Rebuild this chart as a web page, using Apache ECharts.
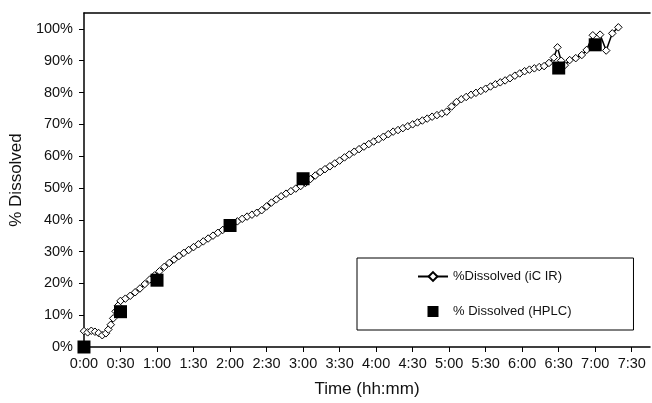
<!DOCTYPE html>
<html>
<head>
<meta charset="utf-8">
<script src="https://cdn.jsdelivr.net/npm/echarts@6/dist/echarts.min.js"></script>
<style>
html,body{margin:0;padding:0;background:#fff;}
#chart{width:652px;height:403px;}
</style>
</head>
<body>
<div id="chart"></div>
<script>
// Time in minutes, % dissolved values
const icirTimes = [0,3,6,9,12,15,18,20,22,24,26,28,30,34,38,42,46,50,54,58,62,66,70,74,78,82,86,90,94,98,102,106,110,114,118,122,126,130,134,138,142,146,150,154,158,162,166,170,174,178,182,186,190,194,198,202,206,210,214,218,222,226,230,234,238,242,246,250,254,258,262,266,270,274,278,282,286,290,294,298,302,306,310,314,318,322,326,330,334,338,342,346,350,354,358,362,366,370,374,378,382,386,389,392,395,399,404,409,413,418,424,429,434,439];
const icirValues = [5.0,4.6,5.1,4.8,4.4,3.7,4.3,5.5,7.0,9.0,11.2,13.0,14.5,15.2,16.1,17.2,18.4,19.8,21.2,22.5,23.8,25.2,26.4,27.5,28.6,29.6,30.5,31.4,32.3,33.2,34.1,35.0,35.9,36.8,37.8,38.7,39.5,40.3,41.0,41.6,42.2,43.0,44.2,45.4,46.4,47.4,48.2,49.0,49.8,50.6,51.6,52.8,53.9,55.0,55.9,56.8,57.7,58.6,59.6,60.5,61.4,62.2,63.0,63.8,64.6,65.3,66.1,66.9,67.7,68.2,68.8,69.4,70.0,70.6,71.2,71.8,72.4,72.9,73.4,74.0,75.6,77.0,77.9,78.6,79.3,79.9,80.5,81.2,81.9,82.6,83.2,83.8,84.5,85.3,86.0,86.7,87.2,87.6,88.0,88.3,89.3,91.0,94.2,90.0,88.6,90.2,90.8,91.8,93.4,98.0,98.2,93.2,98.6,100.5];
const hplcTimes = [0,30,60,120,180,390,420];
const hplcValues = [0,11.1,21.0,38.2,52.9,87.7,95.0];
const seriesNames = ['%Dissolved (iC IR)', '% Dissolved (HPLC)'];
const xAxisTitle = 'Time (hh:mm)';
const yAxisTitle = '% Dissolved';

const FONT = 'Liberation Sans, Arial, sans-serif';
const SQUARE = 'path://M0,0L10,0L10,10L0,10Z';
function hhmm(v){ const h = Math.floor(v/60), m = Math.round(v%60); return h + ':' + (m<10?'0':'') + m; }

const chart = echarts.init(document.getElementById('chart'), null, {renderer:'canvas'});
chart.setOption({
  backgroundColor:'#fff',
  animation:false,
  grid:{left:82, top:13, right:2, bottom:55},
  legend:{
    orient:'vertical', left:357, top:258,
    padding:[12,62,12,60], itemGap:22, itemWidth:30, itemHeight:11,
    borderColor:'#000', borderWidth:1, backgroundColor:'#fff',
    textStyle:{fontFamily:FONT, fontSize:13, color:'#111'},
    data: [{name:seriesNames[0]}, {name:seriesNames[1], icon:SQUARE}]
  },
  xAxis:[{
    type:'value', min:0, max:465, interval:30,
    name:xAxisTitle, nameLocation:'middle', nameGap:34,
    nameTextStyle:{fontFamily:FONT, fontSize:17, color:'#111'},
    axisLine:{lineStyle:{color:'#000', width:1.5}},
    axisTick:{length:5, lineStyle:{color:'#000'}},
    axisLabel:{fontFamily:FONT, fontSize:14.5, color:'#111', margin:9, showMaxLabel:false, formatter:hhmm},
    splitLine:{show:false}
  },{
    type:'value', position:'top', min:0, max:465, interval:30,
    axisLine:{show:true, lineStyle:{color:'#000', width:1.5}},
    axisTick:{show:false}, axisLabel:{show:false}, splitLine:{show:false}
  }],
  yAxis:{
    type:'value', min:0, max:105, interval:10,
    name:yAxisTitle, nameLocation:'middle', nameGap:56, nameRotate:90,
    nameTextStyle:{fontFamily:FONT, fontSize:17, color:'#111'},
    axisLine:{show:true, lineStyle:{color:'#000', width:1.5}},
    axisTick:{show:true, length:5, lineStyle:{color:'#000'}},
    axisLabel:{fontFamily:FONT, fontSize:14.5, color:'#111', margin:11, showMaxLabel:false, formatter: v => v + '%'},
    splitLine:{show:false}
  },
  series:[{
    name:seriesNames[0], type:'line', xAxisIndex:0,
    data: icirTimes.map((t,i)=>[t, icirValues[i]]),
    symbol:'diamond', symbolSize:7.5, showAllSymbol:true,
    lineStyle:{color:'#000', width:1.5},
    itemStyle:{color:'#fff', borderColor:'#000', borderWidth:1},
    z:2
  },{
    name:seriesNames[1], type:'scatter', xAxisIndex:0,
    data: hplcTimes.map((t,i)=>[t, hplcValues[i]]),
    symbol:SQUARE, symbolKeepAspect:true, symbolSize:13,
    itemStyle:{color:'#000', opacity:1},
    z:3
  }]
});
</script>
</body>
</html>
